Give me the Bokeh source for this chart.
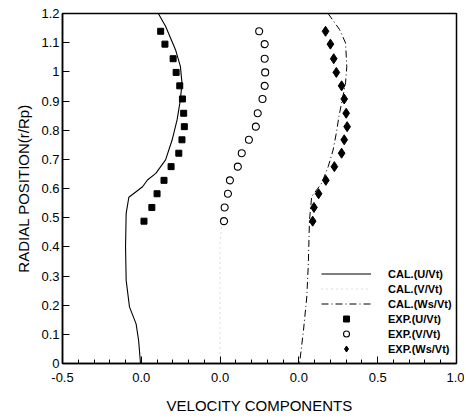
from bokeh.plotting import figure
from bokeh.models import FixedTicker, NumeralTickFormatter, Legend, LegendItem
from bokeh.embed import file_html
from bokeh.resources import INLINE

# ---- data ----
# calculated profiles
cal_u_r = [1.2, 1.156, 1.076, 1.019, 0.962, 0.904, 0.835, 0.767, 0.698, 0.652, 0.629, 0.606, 0.570,
           0.515, 0.40, 0.285, 0.194, 0.136, 0.079, 0.0]
cal_u = [0.108, 0.154, 0.217, 0.248, 0.258, 0.248, 0.227, 0.196, 0.154, 0.092, 0.039, 0.008, -0.079,
         -0.096, -0.10, -0.096, -0.075, -0.033, -0.017, -0.005]
cal_v_r = [0.0, 0.2, 0.42, 0.47]
cal_v = [0.0, 0.0, 0.0, 0.01]
cal_ws_r = [1.2, 1.145, 1.099, 1.019, 0.962, 0.904, 0.847, 0.79, 0.732, 0.675, 0.618, 0.572,
            0.49, 0.343, 0.228, 0.113, 0.0]
cal_ws = [0.185, 0.258, 0.296, 0.304, 0.296, 0.275, 0.254, 0.2375, 0.217, 0.186, 0.144, 0.081,
          0.067, 0.06, 0.05, 0.029, 0.004]

# experimental points
exp_r = [1.139, 1.095, 1.045, 0.998, 0.952, 0.907, 0.858, 0.812, 0.767, 0.721, 0.675, 0.628,
         0.582, 0.535, 0.488]
exp_u = [0.123, 0.150, 0.202, 0.221, 0.244, 0.261, 0.269, 0.273, 0.258, 0.238, 0.189, 0.144,
         0.100, 0.067, 0.017]
exp_v = [0.248, 0.283, 0.283, 0.286, 0.283, 0.269, 0.239, 0.227, 0.183, 0.1375, 0.1125, 0.0625,
         0.05, 0.029, 0.025]
exp_ws = [0.169, 0.20, 0.221, 0.2375, 0.271, 0.2875, 0.30, 0.306, 0.2875, 0.271, 0.225, 0.171,
          0.125, 0.0956, 0.0875]

x_ticks = [-0.5, 0.0, 0.5, 1.0, 1.5, 2.0]
x_tick_labels = ["-0.5", "0.0", "0.0", "0.0", "0.5", "1.0"]
y_ticks = [round(i * 0.1, 1) for i in range(13)]

# panel offsets along the shared x axis
V_OFF = 0.5
WS_OFF = 1.0

p = figure(frame_width=394, frame_height=350, x_range=(-0.5, 2.0), y_range=(0, 1.2),
           output_backend="svg", toolbar_location=None,
           min_border_left=62, min_border_right=8, min_border_top=13, min_border_bottom=52)
p.grid.visible = False
p.outline_line_color = "black"
p.outline_line_width = 1.5
p.background_fill_color = "white"
p.border_fill_color = "white"

# axes
xa = p.xaxis[0]
xa.ticker = FixedTicker(ticks=x_ticks,
                        minor_ticks=[round(-0.5 + i * 0.1, 2) for i in range(26)])
xa.major_label_overrides = {t: l for t, l in zip(x_ticks, x_tick_labels)}
ya = p.yaxis[0]
ya.ticker = FixedTicker(ticks=y_ticks, minor_ticks=[])
ya.formatter = NumeralTickFormatter(format="0.[0]")

for ax in (xa, ya):
    ax.axis_line_width = 1.5
    ax.axis_line_color = "black"
    ax.major_tick_in = 7
    ax.major_tick_out = 0
    ax.minor_tick_in = 4
    ax.minor_tick_out = 0
    ax.major_tick_line_color = "black"
    ax.minor_tick_line_color = "black"
    ax.major_label_text_font = "Liberation Sans"
    ax.major_label_text_font_size = "13px"
    ax.major_label_text_color = "black"
    ax.major_label_standoff = 3
    ax.axis_label_text_font = "Liberation Sans"
    ax.axis_label_text_font_size = "15px"
    ax.axis_label_text_font_style = "normal"
    ax.axis_label_text_color = "black"
ya.axis_label = "RADIAL POSITION(r/Rp)"
ya.axis_label_standoff = 6
xa.axis_label = "VELOCITY COMPONENTS"
xa.major_label_standoff = 9
xa.axis_label_standoff = 12

# curves
r1 = p.line(cal_u, cal_u_r, line_color="black", line_width=1.1)
r2 = p.line([v + V_OFF for v in cal_v], cal_v_r, line_color="#b8b8b8", line_width=1,
            line_dash="1 4")
r3 = p.line([w + WS_OFF for w in cal_ws], cal_ws_r, line_color="black", line_width=1,
            line_dash="7 3 1 3")

# experiments
r4 = p.scatter(exp_u, exp_r, marker="square", size=6, fill_color="black", line_color="black")
r5 = p.scatter([v + V_OFF for v in exp_v], exp_r, marker="circle", size=7,
               fill_color="white", line_color="black", line_width=1.1)
r6 = p.scatter([w + WS_OFF for w in exp_ws], exp_r, marker="diamond", size=10,
               fill_color="black", line_color="black")

legend = Legend(items=[
    LegendItem(label="CAL.(U/Vt)", renderers=[r1]),
    LegendItem(label="CAL.(V/Vt)", renderers=[r2]),
    LegendItem(label="CAL.(Ws/Vt)", renderers=[r3]),
    LegendItem(label="EXP.(U/Vt)", renderers=[r4]),
    LegendItem(label="EXP.(V/Vt)", renderers=[r5]),
    LegendItem(label="EXP.(Ws/Vt)", renderers=[r6]),
], location=(255, 3))
legend.label_text_font = "Liberation Sans"
legend.label_text_font_size = "11px"
legend.label_text_font_style = "bold"
legend.label_text_color = "black"
legend.glyph_width = 50
legend.glyph_height = 15
legend.label_height = 15
legend.label_standoff = 17
legend.spacing = 0
legend.padding = 4
legend.margin = 0
legend.border_line_alpha = 0
legend.background_fill_alpha = 0
p.add_layout(legend)

open("out.html", "w").write(file_html(p, INLINE))
